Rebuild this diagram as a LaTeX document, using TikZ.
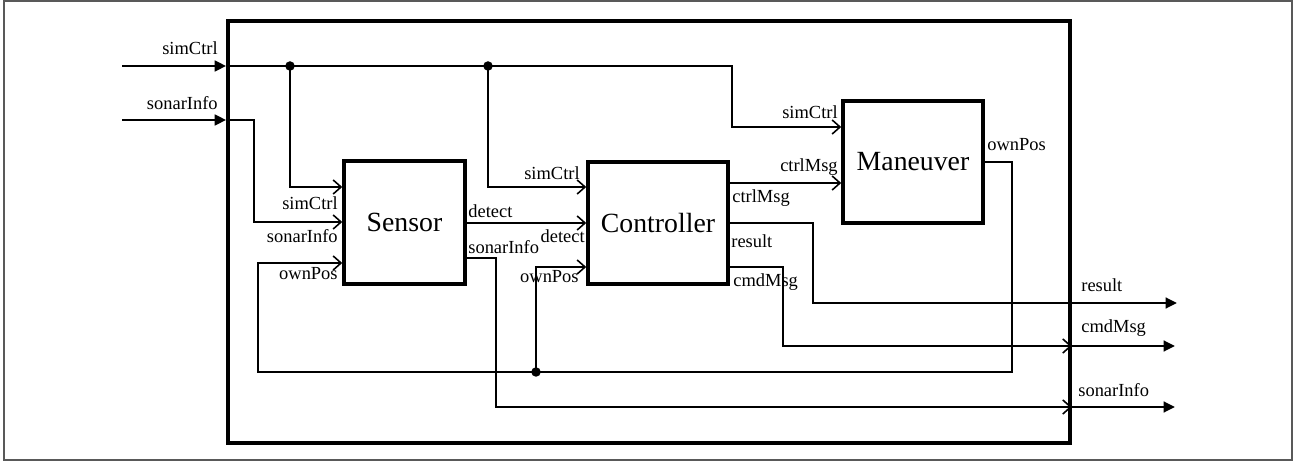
\documentclass[tikz,border=0pt]{standalone}
\usepackage{fontspec}
\setmainfont{Liberation Serif}
\usetikzlibrary{arrows.meta,calc}
\tikzset{
blk/.style={rectangle,draw,line width=2pt,inner sep=0pt,font=\fontsize{15.8}{18}\selectfont},
el/.style={inner sep=0pt,font=\fontsize{10.5}{12}\selectfont},
wire/.style={line width=0.9pt},
sig/.style={wire,-{Straight Barb[length=4.5pt,width=8pt,line width=0.9pt]}},
io/.style={line width=1.6pt,-{Triangle[length=6.5pt,width=6pt]}},
dot/.style={circle,fill,inner sep=0pt,minimum size=0.19cm},
}

\begin{document}
\begin{tikzpicture}[x=0.02cm,y=-0.02cm]
\useasboundingbox (0,0) rectangle (1294,462);
\draw[black!65,line width=1.2pt] (4,1) rectangle (1292,460);

% blocks
\node[blk,line width=2.2pt,minimum width=16.84cm,minimum height=8.44cm] (sys) at (649,232) {};
\node[blk,minimum width=2.42cm,minimum height=2.46cm] (sensor) at (404.5,222.5) {Sensor};
\node[blk,minimum width=2.8cm,minimum height=2.44cm] (ctrl) at (658,223) {Controller};
\node[blk,minimum width=2.8cm,minimum height=2.44cm] (man) at (913,162) {Maneuver};

\coordinate (inSim) at (122,66);
\coordinate (inSonar) at (122,120);
\coordinate (outRes) at (1177,303);
\coordinate (outCmd) at (1175,346);
\coordinate (outSonar) at (1175,407);
\coordinate (jA) at (290,66);
\coordinate (jB) at (488,66);
\coordinate (jC) at (536,372);

% ports of the system
\draw[io] (inSim) -- (sys.west |- inSim);
\draw[io] (inSonar) -- (sys.west |- inSonar);
\draw[io] (sys.east |- outRes) -- (outRes);
\draw[io] (sys.east |- outCmd) -- (outCmd);
\draw[io] (sys.east |- outSonar) -- (outSonar);

% internal wiring
\draw[sig] (sys.west |- inSim) -| (732,127) -- (man.west |- 0,127);
\draw[sig] (jA) |- (sensor.west |- 0,187);
\draw[sig] (jB) |- (ctrl.west |- 0,187);
\draw[sig] (sys.west |- inSonar) -| (254,222) -- (sensor.west |- 0,222);
\draw[sig] (sensor.east |- 0,223) -- (ctrl.west |- 0,223);
\draw[sig] (sensor.east |- 0,258) -| (496,407) -- (sys.east |- outSonar);
\draw[sig] (ctrl.east |- 0,183) -- (man.west |- 0,183);
\draw[wire] (ctrl.east |- 0,223) -| (813,303) -- (sys.east |- outRes);
\draw[sig] (ctrl.east |- 0,267) -| (783,346) -- (sys.east |- outCmd);
\draw[sig] (man.east |- 0,162) -| (1012,372) -| (258,263) -- (sensor.west |- 0,263);
\draw[sig] (jC) |- (ctrl.west |- 0,267);
\node[dot] (dA) at (jA) {};
\node[dot] (dB) at (jB) {};
\node[dot] (dC) at (jC) {};

% labels
\node[el,anchor=base east] (lInSim) at (218,55) {simCtrl};
\node[el,anchor=base east] (lInSonar) at (218,110) {sonarInfo};
\node[el,anchor=base east] (lSenSim) at (338,210) {simCtrl};
\node[el,anchor=base east] (lSenSonar) at (338,243) {sonarInfo};
\node[el,anchor=base east] (lSenPos) at (338,280) {ownPos};
\node[el,anchor=base west] (lSenDet) at (468,218) {detect};
\node[el,anchor=base west] (lSenSonOut) at (468,254) {sonarInfo};
\node[el,anchor=base east] (lCtlSim) at (580,180) {simCtrl};
\node[el,anchor=base east] (lCtlDet) at (585,243) {detect};
\node[el,anchor=base east] (lCtlPos) at (579,283) {ownPos};
\node[el,anchor=base west] (lCtlMsg) at (732,203) {ctrlMsg};
\node[el,anchor=base west] (lCtlRes) at (731,248) {result};
\node[el,anchor=base west] (lCtlCmd) at (733,287) {cmdMsg};
\node[el,anchor=base east] (lManSim) at (838,119) {simCtrl};
\node[el,anchor=base east] (lManMsg) at (838,172) {ctrlMsg};
\node[el,anchor=base west] (lManPos) at (987,151) {ownPos};
\node[el,anchor=base west] (lOutRes) at (1081,292) {result};
\node[el,anchor=base west] (lOutCmd) at (1081,333) {cmdMsg};
\node[el,anchor=base west] (lOutSonar) at (1078,396) {sonarInfo};
\end{tikzpicture}
\end{document}
